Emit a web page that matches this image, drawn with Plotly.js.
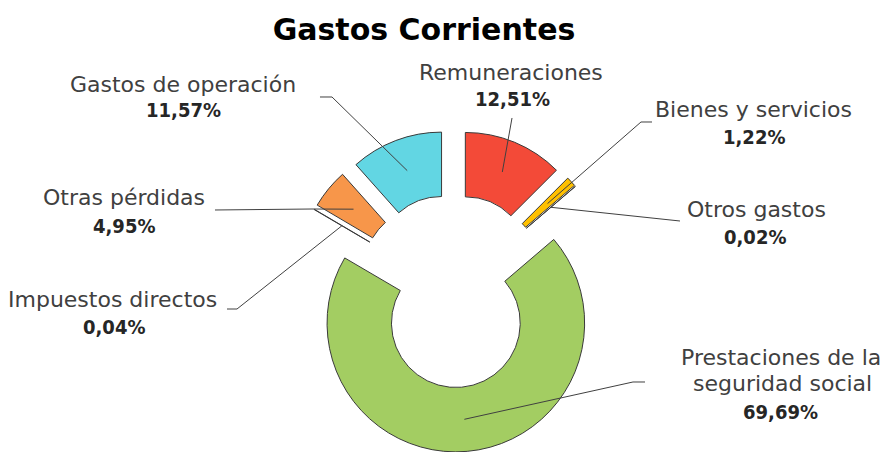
<!DOCTYPE html>
<html><head><meta charset="utf-8">
<script src="https://cdn.plot.ly/plotly-3.0.1.min.js"></script>
<style>html,body{margin:0;padding:0;background:#fff;overflow:hidden}#chart{width:884px;height:452px}</style>
</head><body><div id="chart"></div>
<script>
// ---- data ----
const categories = ['Remuneraciones', 'Bienes y servicios', 'Otros gastos', 'Prestaciones de la seguridad social', 'Impuestos directos', 'Otras pérdidas', 'Gastos de operación'];
const shares = [12.51, 1.22, 0.02, 69.69, 0.04, 4.95, 11.57];
const sliceColors = ['#F34A38', '#FFC000', '#FFC000', '#A3CD62', '#FFFFFF', '#F7964A', '#62D6E3'];
const chartTitle = 'Gastos Corrientes';

// ---- geometry / layout (pixels) ----
const W = 884, H = 452;
const CX = 453, CYB = 161;           // pie centre: from left, from bottom
const PULL = 0.25, HOLE = 0.5;
const R = CYB / (1 + PULL);
const CY = H - CYB;

// label placement: centre of each text line, centre of percentage, leader start (+ elbow)
const placement = [
  {lines: [[511, 72]], pct: [512, 99], path: [[512, 118]]},
  {lines: [[753, 109]], pct: [754, 137], path: [[652, 122], [641, 122]]},
  {lines: [[756, 209]], pct: [755, 237], path: [[680, 221]]},
  {lines: [[781, 357], [782, 383]], pct: [780, 412], wrap: 3, path: [[645, 382], [633, 382]]},
  {lines: [[113, 299]], pct: [114, 327], path: [[227, 309], [237, 309]]},
  {lines: [[124, 197]], pct: [124, 226], path: [[215, 210], [312, 209]]},
  {lines: [[183, 84]], pct: [183, 110], path: [[320, 97], [332, 97]]}
];

const px = x => x / W, py = y => 1 - y / H;

// leader line ends: middle of ring at each slice's mid-angle (pulled)
const total = shares.reduce((a, b) => a + b, 0);
let cum = 0;
const tails = shares.map(v => {
  const mid = (cum + v / 2) / total * 2 * Math.PI;
  cum += v;
  const d = R * (PULL + (1 + HOLE) / 2);
  return [CX + d * Math.sin(mid), CY - d * Math.cos(mid)];
});

const shapes = [], annotations = [];
const nameFont = {family: 'DejaVu Sans', size: 22, color: '#404040'};
const pctFont = {family: 'DejaVu Sans Condensed, DejaVu Sans', size: 20, color: '#262626'};

categories.forEach((cat, i) => {
  const p = placement[i];
  let lines = [cat];
  if (p.wrap) {
    const w = cat.split(' ');
    lines = [w.slice(0, p.wrap).join(' '), w.slice(p.wrap).join(' ')];
  }
  lines.forEach((t, k) => annotations.push({
    text: t, x: px(p.lines[k][0]), y: py(p.lines[k][1]), xref: 'paper', yref: 'paper',
    xanchor: 'center', yanchor: 'middle', showarrow: false, font: nameFont
  }));
  annotations.push({
    text: '<b>' + shares[i].toFixed(2).replace('.', ',') + '%</b>',
    x: px(p.pct[0]), y: py(p.pct[1]), xref: 'paper', yref: 'paper',
    xanchor: 'center', yanchor: 'middle', showarrow: false, font: pctFont
  });
  const pts = p.path.concat([tails[i]]);
  const d = pts.map((q, k) => (k ? 'L' : 'M') + px(q[0]).toFixed(5) + ',' + py(q[1]).toFixed(5)).join(' ');
  shapes.push({type: 'path', xref: 'paper', yref: 'paper', path: d, line: {color: '#404040', width: 1}});
});

const trace = {
  type: 'pie',
  labels: categories,
  values: shares,
  sort: false,
  direction: 'clockwise',
  rotation: 0,
  hole: HOLE,
  pull: PULL,
  textinfo: 'none',
  hoverinfo: 'none',
  showlegend: false,
  marker: {colors: sliceColors, line: {color: '#3a3a3a', width: 1}},
  domain: {x: [px(CX - CYB * 1.2), px(CX + CYB * 1.2)], y: [0, 2 * CYB / H]}
};

const layout = {
  width: W, height: H,
  margin: {l: 0, r: 0, t: 0, b: 0},
  paper_bgcolor: '#ffffff',
  showlegend: false,
  title: {text: '<b>' + chartTitle + '</b>', x: 424 / W, xanchor: 'center', xref: 'paper',
          y: 1 - 29 / H, yanchor: 'middle', yref: 'container',
          font: {family: 'DejaVu Sans', size: 30, color: '#000000'}},
  shapes: shapes,
  annotations: annotations
};

Plotly.newPlot('chart', [trace], layout, {displayModeBar: false, staticPlot: true});
</script>
</body></html>
